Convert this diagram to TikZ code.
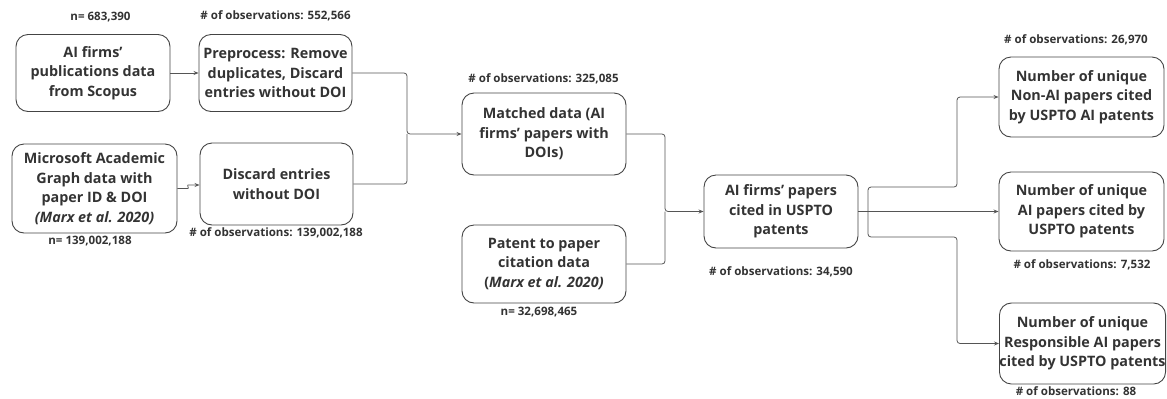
\documentclass[tikz,border=0pt]{standalone}
\usepackage{fontspec}
\setmainfont{Open Sans}[Ligatures=ResetAll]
\usetikzlibrary{arrows.meta}
\definecolor{boxc}{HTML}{444444}
\definecolor{linec}{HTML}{555555}
\definecolor{txt}{HTML}{333333}
\newcommand{\ap}{{\char"27}}
\begin{document}
\begin{tikzpicture}[x=1bp,y=-1bp,
  box/.style={draw=boxc, rounded corners=12bp, line width=0.9bp, align=center,
    font=\bfseries\fontsize{14.4}{19.5}\selectfont, text=txt, inner sep=0pt},
  lab/.style={font=\bfseries\fontsize{11.6}{14}\selectfont, text=txt, inner sep=0pt},
  conn/.style={draw=linec, line width=0.8bp, rounded corners=3bp, -{Stealth[length=5bp,width=4bp]}},
  plain/.style={draw=linec, line width=0.8bp, rounded corners=3bp}]
\useasboundingbox (0,0) rectangle (1167,398);
% boxes
\node[box, minimum width=154bp, minimum height=77bp] (A) at (93,73) {AI firms\ap\\publications data\\from Scopus};
\node[box, minimum width=153bp, minimum height=77bp] (B) at (275.5,73) {Preprocess: Remove\\duplicates, Discard\\entries without DOI};
\node[box, minimum width=165bp, minimum height=89bp] (C) at (94.5,188.5) {Microsoft Academic\\Graph data with\\paper ID \& DOI\\\textit{(Marx et al. 2020)}};
\node[box, minimum width=153bp, minimum height=82bp] (D) at (276.5,184) {Discard entries\\without DOI};
\node[box, minimum width=164bp, minimum height=82bp] (E) at (544,134) {Matched data (AI\\firms\ap\ papers with\\DOIs)};
\node[box, minimum width=164bp, minimum height=78bp] (F) at (544,264) {Patent to paper\\citation data\\(\textit{Marx et al. 2020)}};
\node[box, minimum width=154bp, minimum height=73bp] (G) at (781,211.5) {AI firms\ap\ papers\\cited in USPTO\\patents};
\node[box, minimum width=165bp, minimum height=80bp] (H) at (1081.5,97) {Number of unique\\Non-AI papers cited\\by USPTO AI patents};
\node[box, minimum width=165bp, minimum height=79bp] (I) at (1081.5,211.5) {Number of unique\\AI papers cited by\\USPTO patents};
\node[box, minimum width=166bp, minimum height=81bp] (J) at (1082.5,343.5) {Number of unique\\Responsible AI papers\\cited by USPTO patents};
% labels
\node[lab] (lA) at (100.5,17) {n= 683,390};
\node[lab] (lB) at (275.5,16) {\# of observations: 552,566};
\node[lab] (lC) at (90,241) {n= 139,002,188};
\node[lab] (lD) at (276,233) {\# of observations: 139,002,188};
\node[lab] (lE) at (543.5,79) {\# of observations: 325,085};
\node[lab] (lF) at (539,312) {n= 32,698,465};
\node[lab] (lG) at (781,272) {\# of observations: 34,590};
\node[lab] (lH) at (1076,40) {\# of observations: 26,970};
\node[lab] (lI) at (1082,265) {\# of observations: 7,532};
\node[lab] (lJ) at (1076,391) {\# of observations: 88};
% connectors
\coordinate (j1) at (407,134);
\coordinate (j2) at (665,211.5);
\coordinate (h1) at (185,188.5);
\coordinate (h2) at (191,185);
\coordinate (s) at (868,211.5);
\coordinate (t1) at (957,187);
\coordinate (t2) at (957,237);
\draw[conn] (A) -- (B);
\draw[conn] (B.east) -| (j1) -- (E.west);
\draw[plain] (D.east) -| (j1);
\draw[conn] (C.east) -- (h1) .. controls (189,188.5) and (187,185) .. (h2) -- (D.west |- h2);
\draw[conn] (E.east) -| (j2) -- (G.west);
\draw[plain] (F.east) -| (j2);
\draw[conn] (G.east) -- (I.west);
\draw[conn] (s) |- (t1) |- (H.west);
\draw[conn] (s) |- (t2) |- (J.west);
\end{tikzpicture}
\end{document}
